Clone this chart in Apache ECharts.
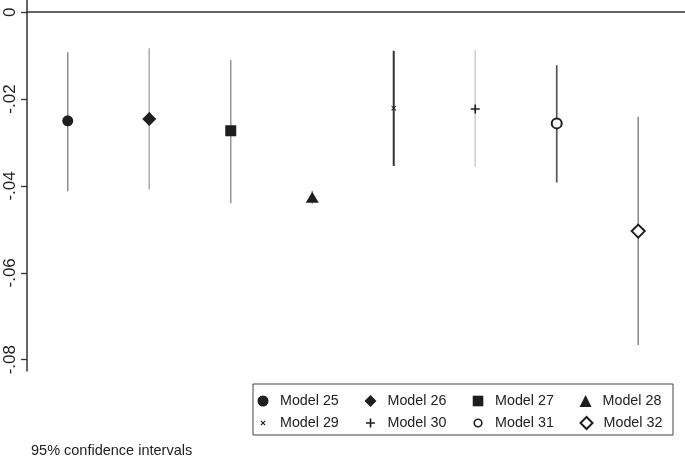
<!DOCTYPE html>
<html>
<head>
<meta charset="utf-8">
<script src="https://cdn.jsdelivr.net/npm/echarts@6/dist/echarts.min.js"></script>
<style>
  html, body { margin: 0; padding: 0; background: #fff; }
  #chart { width: 685px; height: 457px; }
</style>
</head>
<body>
<div id="chart"></div>
<script>
// model names and point estimates with 95% CI
const models = ['Model 25', 'Model 26', 'Model 27', 'Model 28', 'Model 29', 'Model 30', 'Model 31', 'Model 32'];
const estimates = [-0.0250, -0.0246, -0.0273, -0.0426, -0.0221, -0.0223, -0.0256, -0.0504];
const ciHigh = [-0.0092, -0.0083, -0.0110, -0.0411, -0.0089, -0.0087, -0.0122, -0.0241];
const ciLow = [-0.0412, -0.0408, -0.0440, -0.0441, -0.0354, -0.0356, -0.0392, -0.0766];
const yTicks = [0, -0.02, -0.04, -0.06, -0.08];

// marker / line styles per model
const crossPath = 'path://M0,1.4L1.4,0L5,3.6L8.6,0L10,1.4L6.4,5L10,8.6L8.6,10L5,6.4L1.4,10L0,8.6L3.6,5Z';
const plusPath = 'path://M4.1,0H5.9V4.1H10V5.9H5.9V10H4.1V5.9H0V4.1H4.1Z';
const symbols = ['circle', 'diamond', 'rect', 'triangle', crossPath, plusPath, 'emptyCircle', 'emptyDiamond'];
const symbolSizes = [11, 14, 11, [13, 11], 5, 9, 10, 13];
const lineColors = ['#8c8c8c', '#ababab', '#959595', '#999', '#333', '#cfcfcf', '#555', '#888'];
const lineWidths = [1.5, 1.5, 1.5, 1.5, 2, 1.5, 1.7, 1.5];

// legend icons: padded 12x12 paths (the extra M points fix the box) so the marks keep their own size
const legendIcons = [
  'path://M0,0M12,12M0.5,6A5.5,5.5,0,1,1,11.5,6A5.5,5.5,0,1,1,0.5,6Z',
  'diamond',
  'path://M0,0M12,12M0.7,0.7H11.3V11.3H0.7Z',
  'triangle',
  'path://M0,0M12,12M3.5,4.3L4.3,3.5L6,5.2L7.7,3.5L8.5,4.3L6.8,6L8.5,7.7L7.7,8.5L6,6.8L4.3,8.5L3.5,7.7L5.2,6Z',
  'path://M0,0M12,12M5.2,1.5H6.8V5.2H10.5V6.8H6.8V10.5H5.2V6.8H1.5V5.2H5.2Z',
  'path://M0,0M12,12M1.4,6A4.6,4.6,0,1,1,10.6,6A4.6,4.6,0,1,1,1.4,6ZM3,6A3,3,0,1,0,9,6A3,3,0,1,0,3,6Z',
  'emptyDiamond'
];

const chart = echarts.init(document.getElementById('chart'));

const series = [];
models.forEach((m, i) => {
  series.push({
    name: 'CI ' + m,
    type: 'line',
    data: [[i + 1, ciHigh[i]], [i + 1, ciLow[i]]],
    symbol: 'none',
    silent: true,
    z: 1,
    lineStyle: { color: lineColors[i], width: lineWidths[i] }
  });
});
models.forEach((m, i) => {
  const empty = symbols[i].indexOf('empty') === 0;
  series.push({
    name: m,
    type: 'scatter',
    data: [[i + 1, estimates[i]]],
    symbol: symbols[i],
    symbolSize: symbolSizes[i],
    z: 3,
    itemStyle: {
      color: '#1e1e1e',
      borderColor: '#1e1e1e',
      borderWidth: empty ? 2 : 0,
      opacity: 1
    }
  });
});

const legendBase = {
  orient: 'horizontal',
  left: 257,
  padding: 0,
  itemWidth: 12,
  itemHeight: 12,
  itemGap: 25.7,
  selectedMode: false,
  textStyle: {
    fontFamily: 'Liberation Sans',
    fontSize: 14.3,
    color: '#222',
    padding: [0, 0, 0, 6]
  }
};
const legendData = models.map((m, i) => {
  const item = { name: m, icon: legendIcons[i] };
  if (i === 6) item.itemStyle = { borderWidth: 0 };
  if (i === 7) item.itemStyle = { borderWidth: 1.6 };
  return item;
});

const option = {
  animation: false,
  backgroundColor: '#fff',
  grid: { left: 27, right: 0, top: 0, bottom: 86 },
  xAxis: {
    type: 'value',
    min: 0.5,
    max: 8.574,
    axisLine: { show: true, onZero: true, lineStyle: { color: '#333', width: 1.5 } },
    axisTick: { show: false },
    axisLabel: { show: false },
    splitLine: { show: false }
  },
  yAxis: {
    type: 'value',
    min: -0.0826,
    max: 0.0028,
    axisLine: { show: true, onZero: false, lineStyle: { color: '#333', width: 1.5 } },
    axisTick: { show: true, length: 6, customValues: yTicks, lineStyle: { color: '#333', width: 1.3 } },
    axisLabel: {
      customValues: yTicks,
      rotate: 90,
      margin: 8,
      fontFamily: 'Liberation Sans',
      fontSize: 17,
      color: '#222',
      formatter: v => (v === 0 ? '0' : v.toFixed(2).replace('0.', '.'))
    },
    splitLine: { show: false }
  },
  legend: [
    Object.assign({}, legendBase, { top: 394, data: legendData.slice(0, 4) }),
    Object.assign({}, legendBase, { top: 416, data: legendData.slice(4) })
  ],
  graphic: [
    {
      type: 'rect',
      shape: { x: 253, y: 384, width: 420, height: 51 },
      style: { fill: 'none', stroke: '#444', lineWidth: 1 },
      silent: true
    },
    {
      type: 'text',
      x: 31,
      y: 451,
      style: {
        text: '95% confidence intervals',
        font: '14.5px "Liberation Sans"',
        fill: '#222',
        textVerticalAlign: 'middle'
      },
      silent: true
    }
  ],
  series: series
};

chart.setOption(option);
</script>
</body>
</html>
